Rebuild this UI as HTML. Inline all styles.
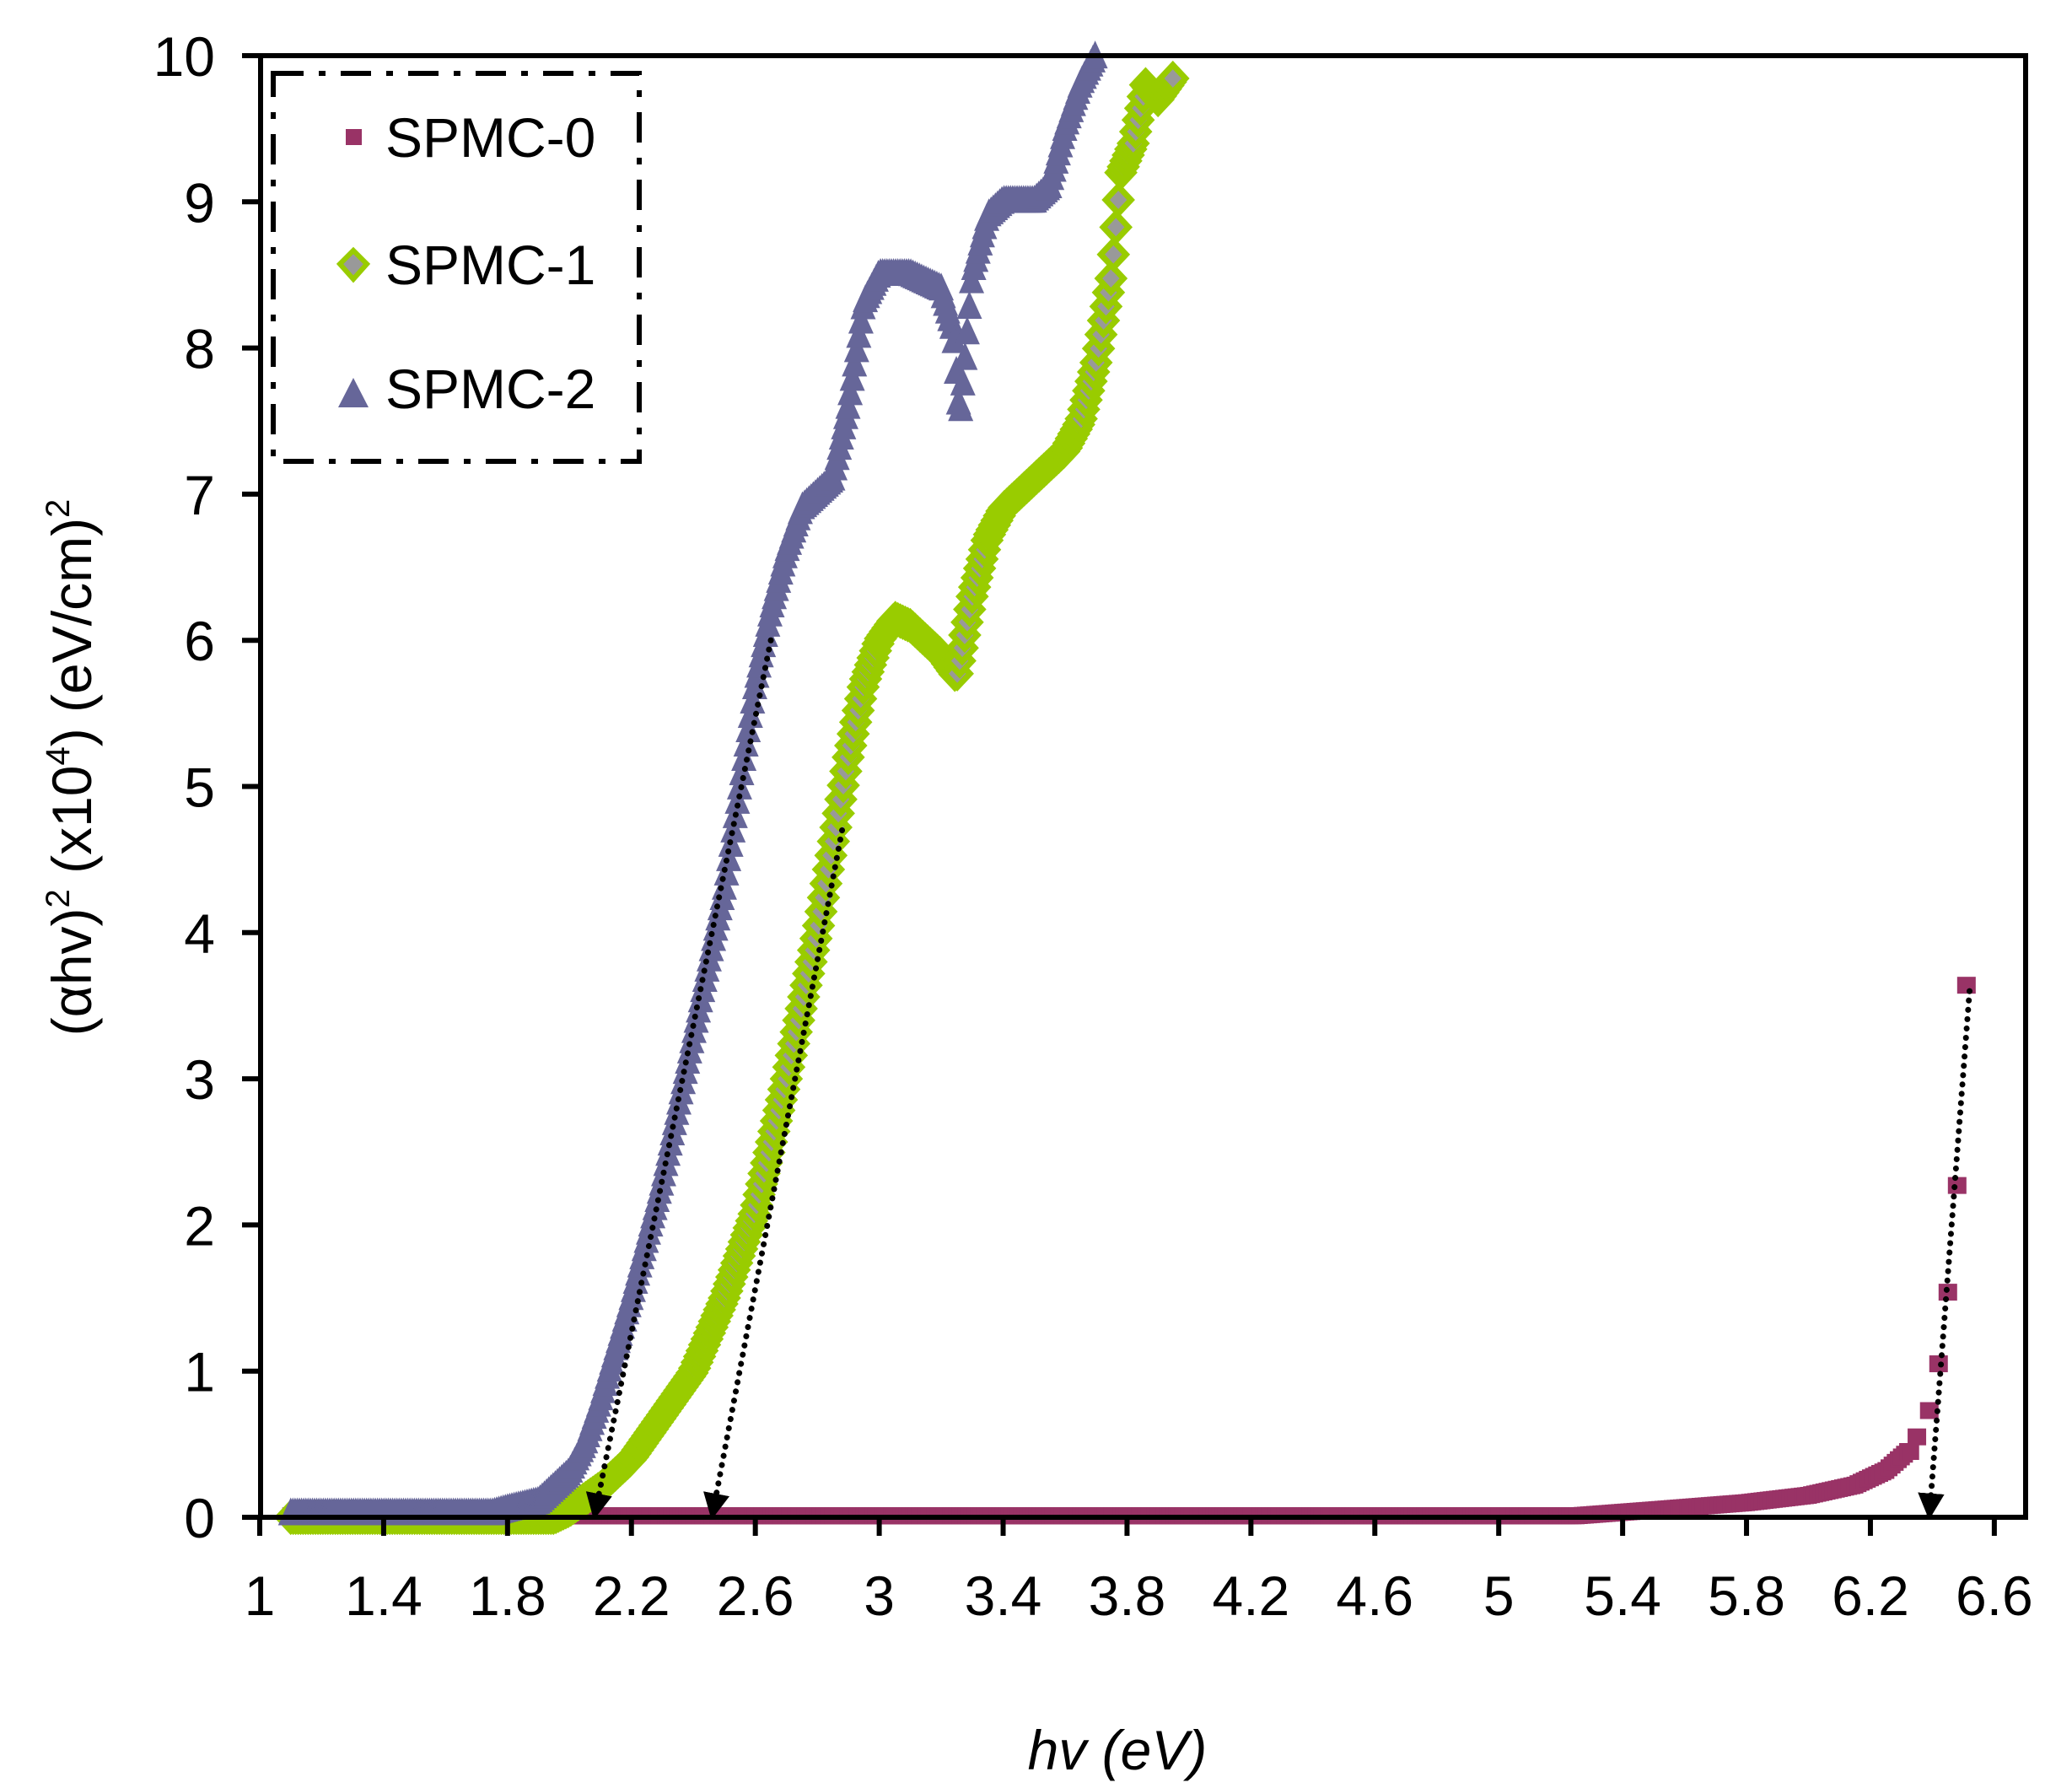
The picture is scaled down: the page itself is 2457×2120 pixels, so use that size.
<!DOCTYPE html>
<html><head><meta charset="utf-8"><style>
html,body{margin:0;padding:0;background:#fff;}
svg{display:block;}
text{font-family:"Liberation Sans",Arial,sans-serif;fill:#000;}
</style></head><body>
<svg id="s" width="2457" height="2120" viewBox="0 0 2457 2120" xmlns="http://www.w3.org/2000/svg">
<defs>
<marker id="ah" viewBox="0 0 10 10" refX="9" refY="5" markerWidth="4.5" markerHeight="4.5" orient="auto" markerUnits="strokeWidth">
<path d="M0,0 L10,5 L0,10 z" fill="#000"/></marker>
</defs>
<g id="data"></g>
<g id="arrows" stroke="#000" stroke-width="7" stroke-dasharray="0.1 11" stroke-linecap="round" fill="none"></g>
<rect x="309" y="66" width="2093" height="1733" fill="none" stroke="#000" stroke-width="6"/>
<g id="ticks" stroke="#000" stroke-width="6"></g>
<g id="labels" font-size="66"></g>
<rect x="324" y="87" width="434" height="460" fill="#fff" stroke="#000" stroke-width="6" stroke-dasharray="36 18 8 18"/>
<rect x="410" y="153" width="19" height="19" fill="#993366"/>
<polygon points="419,297 435,313 419,331 403,313" fill="#999" stroke="#99cc00" stroke-width="6"/>
<polygon points="419,448 437,483 401,483" fill="#666699"/>
<text x="457" y="186" font-size="66">SPMC-0</text>
<text x="457" y="337" font-size="66">SPMC-1</text>
<text x="457" y="484" font-size="66">SPMC-2</text>
<text x="1325" y="2098" font-size="66" font-style="italic" text-anchor="middle">hv (eV)</text>
<text transform="translate(108,910) rotate(-90)" font-size="66" text-anchor="middle">(αhv)<tspan dy="-26" font-size="40">2</tspan><tspan dy="26"> (x10</tspan><tspan dy="-26" font-size="40">4</tspan><tspan dy="26">) (eV/cm)</tspan><tspan dy="-26" font-size="40">2</tspan></text>
</svg>
<script>
var NS="http://www.w3.org/2000/svg";
function X(v){return 308+(v-1)*367.3;}
function Y(v){return 1799-173.3*v;}
function el(t,a,p){var e=document.createElementNS(NS,t);for(var k in a)e.setAttribute(k,a[k]);p.appendChild(e);return e;}
var tk=document.getElementById('ticks'),lb=document.getElementById('labels');
for(var i=0;i<=10;i++){var y=Y(i);el('line',{x1:287,y1:y,x2:309,y2:y},tk);var t=el('text',{x:255,y:y+24,'text-anchor':'end'},lb);t.textContent=i;}
var xl=['1','1.4','1.8','2.2','2.6','3','3.4','3.8','4.2','4.6','5','5.4','5.8','6.2','6.6'];
for(var i=0;i<15;i++){var v=1+0.4*i,x=X(v);el('line',{x1:x,y1:1799,x2:x,y2:1821},tk);var t=el('text',{x:x,y:1915,'text-anchor':'middle'},lb);t.textContent=xl[i];}
function interp(pts,v){for(var i=0;i<pts.length-1;i++){if(v>=pts[i][0]&&v<=pts[i+1][0]){var f=(v-pts[i][0])/(pts[i+1][0]-pts[i][0]);return pts[i][1]+f*(pts[i+1][1]-pts[i][1]);}}return pts[pts.length-1][1];}
var d=document.getElementById('data');
var s0=[[1.1,0.01],[5.25,0.01],[5.5,0.05],[5.8,0.1],[6.0,0.15],[6.15,0.22],[6.25,0.32],[6.32,0.45]];
for(var v=1.1;v<=6.33;v+=0.01){el('rect',{x:X(v)-10,y:Y(interp(s0,v))-10,width:20,height:20,fill:'#993366'},d);}
[[6.35,0.55],[6.39,0.73],[6.42,1.05],[6.45,1.54],[6.48,2.27],[6.51,3.64]].forEach(function(p){el('rect',{x:X(p[0])-11,y:Y(p[1])-10,width:22,height:20,fill:'#993366'},d);});
var s1=[[1.1,0],[1.95,0],[2.0,0.05],[2.1,0.2],[2.2,0.4],[2.3,0.7],[2.4,1.0],[2.5,1.5],[2.6,2.1],[2.7,3.0],[2.8,4.0],[2.85,4.6],[2.9,5.2],[2.95,5.7],[3.0,6.0],[3.05,6.15],[3.1,6.1],[3.2,5.9],[3.25,5.75],[3.3,6.3],[3.35,6.7],[3.4,6.9],[3.5,7.1],[3.6,7.3],[3.65,7.5],[3.7,7.9],[3.75,8.5],[3.78,9.2],[3.82,9.4],[3.86,9.8],[3.9,9.7],[3.95,9.85]];
for(var v=1.1;v<=3.95;v+=0.008){var x=X(v),y=Y(interp(s1,v));el('polygon',{points:(x)+','+(y-16)+' '+(x+15)+','+y+' '+x+','+(y+16)+' '+(x-15)+','+y,fill:'#999',stroke:'#99cc00','stroke-width':7},d);}
var s2=[[1.1,0.02],[1.75,0.02],[1.8,0.05],[1.9,0.1],[2.0,0.3],[2.05,0.5],[2.1,0.8],[2.2,1.5],[2.3,2.3],[2.4,3.3],[2.5,4.3],[2.55,5.0],[2.6,5.7],[2.65,6.2],[2.7,6.6],[2.75,6.9],[2.8,7.0],[2.85,7.1],[2.9,7.6],[2.95,8.3],[3.0,8.5],[3.1,8.5],[3.2,8.4],[3.24,8.1],[3.26,7.5],[3.28,8.0],[3.3,8.5],[3.35,8.9],[3.4,9.0],[3.5,9.0],[3.55,9.1],[3.6,9.5],[3.65,9.8],[3.7,10]];
for(var v=1.1;v<=3.7;v+=0.007){var x=X(v),y=Y(interp(s2,v));el('polygon',{points:x+','+(y-20)+' '+(x+15)+','+(y+13)+' '+(x-15)+','+(y+13),fill:'#666699'},d);}
var ar=document.getElementById('arrows');
[[2.65,6.0,2.08,0],[2.88,4.7,2.46,0],[6.52,3.6,6.39,0]].forEach(function(a){el('line',{x1:X(a[0]),y1:Y(a[1]),x2:X(a[2]),y2:Y(a[3]),'marker-end':'url(#ah)'},ar);});
</script>
</body></html>
